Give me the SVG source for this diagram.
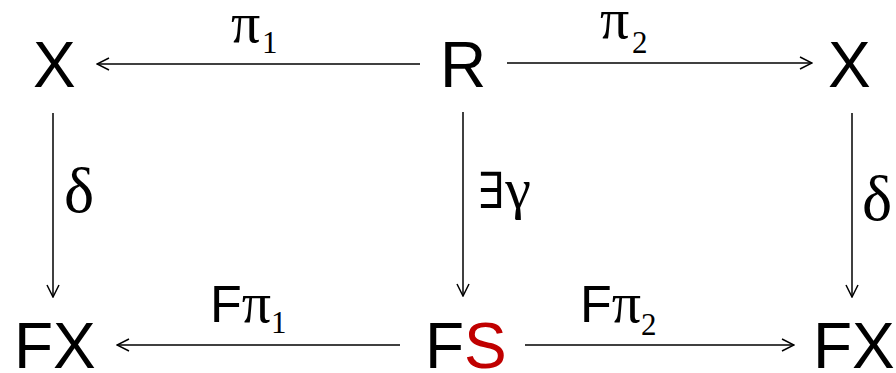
<svg xmlns="http://www.w3.org/2000/svg" width="896" height="373" viewBox="0 0 896 373">
<style>
.n{font-family:"Liberation Sans",Arial,sans-serif;font-size:64px;fill:#000}
.g{font-family:"Liberation Serif","Times New Roman",serif;font-size:58px;fill:#000}
.d{font-family:"Liberation Serif","Times New Roman",serif;font-size:64px;fill:#000}
.x{font-family:"DejaVu Serif",serif;font-size:50px;fill:#000}
.s{font-family:"Liberation Serif","Times New Roman",serif;font-size:31px;fill:#000}
.f{font-family:"Liberation Sans",Arial,sans-serif;font-size:52px;fill:#000}
.e{stroke:#000;stroke-width:1.5;fill:none}
</style>
<defs>
<marker id="ah" viewBox="0 0 14 14" refX="13" refY="7" markerWidth="14" markerHeight="14" markerUnits="userSpaceOnUse" orient="auto">
<path d="M1,1 L13,7 L1,13" fill="none" stroke="#000" stroke-width="1.5"/>
</marker>
</defs>
<rect width="896" height="373" fill="#fff"/>
<g id="X1"><text class="n" x="33" y="87">X</text></g>
<g id="R"><text class="n" x="440" y="87">R</text></g>
<g id="X2"><text class="n" x="828" y="87">X</text></g>
<g id="FX1"><text class="n" x="14" y="368">FX</text></g>
<g id="FS"><text class="n" x="425" y="368">F<tspan fill="#c00000">S</tspan></text></g>
<g id="FX2"><text class="n" x="813" y="368">FX</text></g>
<g id="connectors">
<line class="e" x1="420" y1="64" x2="97" y2="64" marker-end="url(#ah)"/>
<line class="e" x1="507" y1="63" x2="812" y2="63" marker-end="url(#ah)"/>
<line class="e" x1="53" y1="113" x2="53" y2="297" marker-end="url(#ah)"/>
<line class="e" x1="463" y1="112" x2="463" y2="296" marker-end="url(#ah)"/>
<line class="e" x1="852" y1="113" x2="852" y2="297" marker-end="url(#ah)"/>
<line class="e" x1="400" y1="345" x2="117" y2="345" marker-end="url(#ah)"/>
<line class="e" x1="525" y1="345" x2="794" y2="345" marker-end="url(#ah)"/>
<text class="g" x="231" y="42">π<tspan class="s" x="262" y="53">1</tspan></text>
<text class="g" x="600" y="38">π<tspan class="s" x="632" y="53">2</tspan></text>
<text class="d" x="64" y="212">δ</text>
<text x="478" y="208"><tspan class="x">∃</tspan><tspan class="g">γ</tspan></text>
<text class="d" x="862" y="220">δ</text>
<text class="f" x="210" y="322">F<tspan class="g">π</tspan><tspan class="s" dy="11">1</tspan></text>
<text class="f" x="580" y="322">F<tspan class="g">π</tspan><tspan class="s" dy="13">2</tspan></text>
</g>
</svg>
